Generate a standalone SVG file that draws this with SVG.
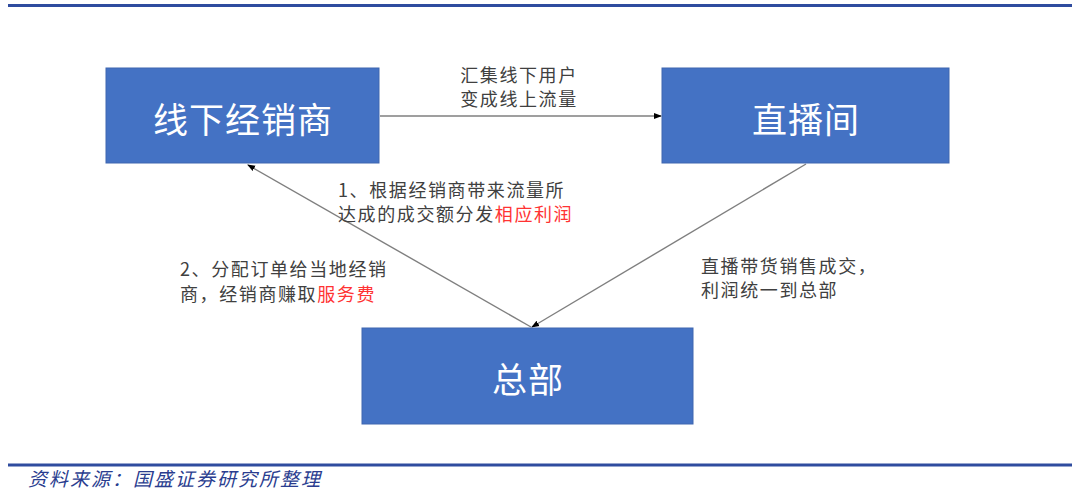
<svg xmlns="http://www.w3.org/2000/svg" width="1080" height="494" viewBox="0 0 1080 494">
<style>
.box{fill:#4472c4;stroke:#3f66b0;stroke-width:1}
.lbl{font-family:"Noto Sans CJK SC","Noto Sans",sans-serif;font-size:35px;fill:#ffffff;text-anchor:middle;dominant-baseline:central;letter-spacing:1px}
.t{font-family:"Noto Sans CJK SC","Noto Sans",sans-serif;font-size:18px;fill:#404040;letter-spacing:1.6px}
.red{fill:#ff3333}
.conn{stroke:#7f7f7f;stroke-width:1.4;fill:none;marker-end:url(#ah)}
.rule{stroke:#2f4c9f;stroke-width:3}
.src{font-family:"Noto Sans CJK SC",sans-serif;font-size:19px;font-style:italic;fill:#2a3d8f;letter-spacing:2px}
</style>
<defs>
<marker id="ah" markerWidth="8" markerHeight="8" refX="7" refY="4" orient="auto" markerUnits="userSpaceOnUse">
<path d="M0,1 L8,4 L0,7 Z" fill="#000000"/>
</marker>
</defs>
<line class="rule" x1="8" y1="5.5" x2="1072" y2="5.5"/>
<line class="rule" x1="8" y1="465" x2="1072" y2="465"/>
<g id="connectors">
<line class="conn" x1="380" y1="116" x2="661" y2="116"/>
<line class="conn" x1="531" y1="327" x2="248" y2="165"/>
<line class="conn" x1="806" y1="164" x2="532" y2="327"/>
</g>
<g id="node-dealer">
<rect class="box" x="106" y="68" width="273" height="95"/>
<text class="lbl" x="243" y="117">线下经销商</text>
</g>
<g id="node-live">
<rect class="box" x="662" y="68" width="287" height="95"/>
<text class="lbl" x="806" y="117">直播间</text>
</g>
<g id="node-hq">
<rect class="box" x="362" y="328" width="331" height="96"/>
<text class="lbl" x="528" y="377">总部</text>
</g>
<g id="labels">
<text class="t" x="519" y="82" text-anchor="middle">汇集线下用户</text>
<text class="t" x="519" y="106" text-anchor="middle">变成线上流量</text>
<text class="t" x="338" y="197">1、根据经销商带来流量所</text>
<text class="t" x="338" y="221">达成的成交额分发<tspan class="red">相应利润</tspan></text>
<text class="t" x="180" y="276">2、分配订单给当地经销</text>
<text class="t" x="180" y="301">商，经销商赚取<tspan class="red">服务费</tspan></text>
<text class="t" x="701" y="273">直播带货销售成交，</text>
<text class="t" x="701" y="297">利润统一到总部</text>
</g>
<text class="src" x="28" y="486">资料来源：国盛证券研究所整理</text>
</svg>
